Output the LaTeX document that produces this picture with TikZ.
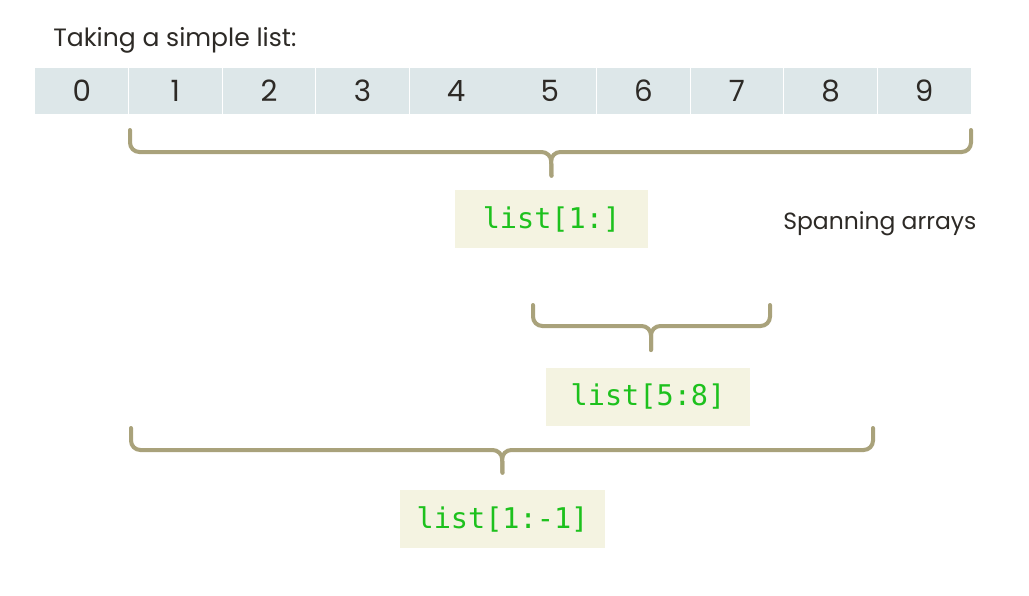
\documentclass[tikz,border=0pt]{standalone}
\usepackage{fontspec}
\setmainfont{Poppins}
\setmonofont{DejaVu Sans Mono}
\usepackage{xcolor}
\usetikzlibrary{calc}
\definecolor{cellfill}{HTML}{DDE7E9}
\definecolor{bracecol}{HTML}{A9A27B}
\definecolor{boxfill}{HTML}{F4F3E1}
\definecolor{codegreen}{HTML}{1DC11D}
\definecolor{inkdark}{HTML}{2D2A26}
\tikzset{
  cell/.style={fill=cellfill, minimum width=69.6pt, minimum height=34.5pt, inner sep=0pt,
    text=inkdark, font=\fontsize{22}{24}\selectfont},
  codebox/.style={fill=boxfill, minimum height=43.5pt, inner sep=0pt, text=codegreen,
    font=\fontsize{21.4}{23}\ttfamily},
  bracket/.style={draw=bracecol, line width=3pt, rounded corners=7pt, line cap=round},
  plain/.style={text=inkdark, font=\fontsize{17.6}{20}\selectfont, inner sep=0pt}
}

\begin{document}
\begin{tikzpicture}[x=0.75pt, y=-0.75pt]
\useasboundingbox (0,0) rectangle (1029,596);
\node[plain, anchor=base west, font=\fontsize{18.8}{21}\selectfont] (title) at (53,46) {Taking a simple list:};
\foreach \i in {0,...,9}{\node[cell] (c\i) at ({81.8+93.6*\i},91) {\i};}
\node[codebox, minimum width=144.75pt] (b1) at (551.5,219) {list[1:]};
\node[plain, anchor=base west] (span) at (783,229) {Spanning arrays};
\node[codebox, minimum width=153pt] (b2) at (648,396.5) {list[5:8]};
\node[codebox, minimum width=153.75pt] (b3) at (502.5,519) {list[1:-1]};
% brace ends
\coordinate (l1) at (130,130); \coordinate (r1) at (971,130);
\coordinate (l2) at (533,305); \coordinate (r2) at (770,305);
\coordinate (l3) at (131,428); \coordinate (r3) at (873,428);
% braces
\draw[bracket] (l1) -- (130,152) -- (551,152) -- ($(b1.north)+(0,-14)$);
\draw[bracket] (r1) -- (971,152) -- (551,152) -- ($(b1.north)+(0,-14)$);
\draw[bracket] (l2) -- (533,326) -- (651,326) -- (651,350);
\draw[bracket] (r2) -- (770,326) -- (651,326) -- (651,350);
\draw[bracket] (l3) -- (131,450) -- (502,450) -- ($(b3.north)+(0,-17)$);
\draw[bracket] (r3) -- (873,450) -- (502,450) -- ($(b3.north)+(0,-17)$);
\end{tikzpicture}
\end{document}
